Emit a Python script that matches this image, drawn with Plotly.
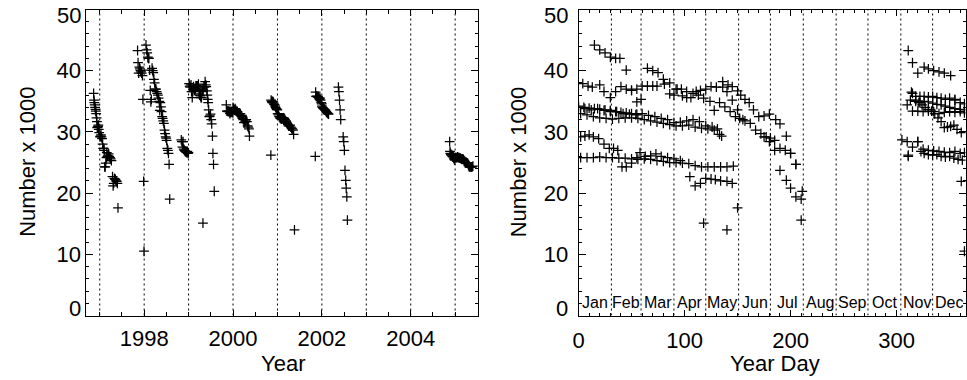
import plotly.graph_objects as go

# ---------------- data (day of year, value x1000) per observing season ----------------
doy_1996 = [315, 318, 321, 324, 327, 330, 333, 336, 339, 342, 345, 348, 351, 354, 357, 361]
val_1996 = [36.3, 35.2, 34.8, 34.4, 34.0, 33.7, 33.4, 33.0, 32.3, 31.7, 30.7, 30.8, 30.9, 31.1, 30.4, 29.9]

doy_1997 = [2, 6, 10, 14, 19, 24, 29, 33, 37, 41, 45, 50, 55, 58, 63, 68, 73, 78, 84, 90, 96,
            105, 110, 115, 120, 125, 129, 134, 140, 145, 150,
            311, 315, 320, 326, 330, 335, 340, 345, 351, 355, 361, 364]
val_1997 = [29.2, 29.3, 29.5, 29.2, 28.9, 28.0, 27.3, 27.3, 27.0, 24.3, 24.3, 24.9, 25.8, 26.6, 26.0, 26.1, 26.4, 26.0, 25.8, 25.6, 25.3,
            22.7, 21.2, 21.6, 22.4, 22.3, 22.2, 22.0, 21.9, 21.6, 17.6,
            43.3, 41.3, 39.6, 40.6, 40.3, 40.0, 39.8, 39.6, 39.2, 35.3, 21.9, 10.5]

doy_1998 = [15, 20, 25, 30, 35, 39, 45, 50, 55, 59, 65, 70, 75, 80, 86, 92, 97, 102, 108, 113, 118, 124,
            128, 133, 138, 143, 148, 152, 157, 162, 167, 172, 177, 181, 185, 190, 195, 200, 205, 210,
            305, 310, 315, 320, 325, 330, 335, 340, 345, 350, 355, 360, 364]
val_1998 = [44.2, 43.4, 42.9, 42.2, 42.0, 42.0, 40.1, 36.8, 34.9, 35.3, 40.4, 40.0, 39.7, 38.6, 38.0, 37.0, 37.0, 36.6, 36.3, 36.0, 35.5, 35.0,
            33.5, 34.8, 34.1, 33.3, 32.5, 32.2, 31.8, 31.4, 30.3, 29.7, 29.2, 29.0, 28.6, 27.3, 27.0, 26.5, 24.7, 19.0,
            28.7, 28.4, 27.5, 28.4, 27.2, 27.0, 26.9, 26.8, 26.7, 26.6, 26.8, 26.5, 26.6]

doy_1999 = [4, 9, 13, 20, 24, 30, 35, 40, 45, 50, 55, 60, 65, 70, 74, 81, 86, 90, 93, 98, 102, 106, 111, 115, 118,
            120, 125, 130, 136, 141, 145, 150, 153, 157, 161, 165, 170, 175, 180, 186, 190, 196, 200, 205, 211,
            310, 315, 320, 325, 330, 335, 340, 345, 350, 355, 360, 364]
val_1999 = [37.9, 37.5, 37.3, 37.7, 36.6, 35.6, 36.6, 37.4, 37.0, 36.8, 37.0, 37.5, 37.5, 37.5, 37.5, 37.8, 36.2, 36.0, 37.0, 35.9, 35.6, 35.6, 36.6, 36.8, 15.1,
            37.0, 37.4, 37.3, 38.2, 37.7, 37.4, 36.7, 36.0, 35.3, 34.8, 33.6, 32.5, 32.6, 32.9, 32.0, 31.3, 29.3, 26.5, 24.7, 20.3,
            34.4, 33.4, 33.4, 33.3, 33.4, 33.3, 33.0, 33.2, 33.3, 33.2, 33.3, 33.1]

doy_2000 = [0, 6, 12, 18, 24, 30, 36, 42, 48, 54, 60, 66, 72, 78, 84, 90, 96, 102, 108, 114, 120, 126, 131, 135,
            311, 313, 318, 322, 326, 330, 334, 338, 342, 346, 350, 355, 360, 364]
val_2000 = [34.0, 33.8, 33.6, 33.8, 33.5, 33.3, 33.3, 33.0, 32.9, 32.8, 33.0, 32.7, 32.5, 32.2, 32.0, 31.5, 31.6, 31.8, 32.0, 31.7, 31.0, 30.8, 30.5, 29.3,
            26.2, 35.2, 35.0, 34.8, 35.0, 34.9, 34.7, 34.5, 34.4, 34.2, 34.0, 33.8, 33.7, 33.6]

doy_2001 = [2, 8, 14, 20, 26, 32, 38, 44, 50, 56, 62, 68, 74, 80, 86, 92, 98, 104, 110, 116, 122, 128, 133, 140,
            311, 314, 318, 322, 326, 330, 334, 338, 342, 346, 350, 355, 360, 364]
val_2001 = [33.0, 32.8, 32.5, 32.3, 32.2, 32.1, 32.2, 32.3, 32.3, 32.2, 32.0, 31.8, 31.6, 31.4, 31.2, 31.0, 31.0, 31.1, 30.8, 30.6, 30.5, 30.3, 29.6, 14.0,
            26.0, 36.5, 35.8, 35.8, 35.8, 35.7, 35.8, 35.6, 35.5, 35.3, 35.5, 35.2, 34.8, 34.6]

doy_2002 = [0, 5, 10, 15, 20, 25, 30, 35, 40, 45, 50, 55,
            136, 140, 145, 150, 155, 175, 180, 185, 190, 196, 200, 205, 210]
val_2002 = [34.2, 34.0, 33.9, 33.8, 33.7, 33.6, 33.5, 33.3, 33.2, 33.1, 33.0, 32.9,
            37.3, 36.6, 35.2, 33.6, 32.0, 29.2, 28.4, 27.0, 23.7, 22.1, 20.8, 19.4, 15.6]

doy_2004 = [320, 323, 326, 330, 334, 338, 342, 346, 350, 354, 358, 362]
val_2004 = [28.4, 26.8, 26.5, 26.3, 26.2, 26.3, 26.0, 25.9, 26.0, 25.7, 25.5, 25.4]

doy_2005 = [2, 8, 14, 20, 26, 32, 38, 44, 50, 56, 62, 68, 74, 80, 86, 92, 98, 104, 110, 116, 122, 128, 134, 140, 146]
val_2005 = [25.8, 25.8, 25.8, 25.9, 25.8, 25.8, 25.7, 25.7, 25.6, 25.5, 25.6, 25.5, 25.3, 25.2, 25.0, 25.0, 24.9, 24.8, 24.5, 24.3, 24.3, 24.3, 24.3, 24.3, 24.4]

year_lines = [1997, 1998, 1999, 2000, 2001, 2002, 2003, 2004, 2005]
month_starts = [31, 59, 90, 120, 151, 181, 212, 243, 273, 304, 334]
month_names = ["Jan", "Feb", "Mar", "Apr", "May", "Jun", "Jul", "Aug", "Sep", "Oct", "Nov", "Dec"]
month_mid = [15.5, 45, 74.5, 105, 135.5, 166, 196.5, 227.5, 258, 288.5, 319, 349.5]

seasons = [(1996, doy_1996, val_1996), (1997, doy_1997, val_1997), (1998, doy_1998, val_1998),
           (1999, doy_1999, val_1999), (2000, doy_2000, val_2000), (2001, doy_2001, val_2001),
           (2002, doy_2002, val_2002), (2004, doy_2004, val_2004), (2005, doy_2005, val_2005)]

frac_year, day, value = [], [], []
for yr, ds, vs in seasons:
    for d, v in zip(ds, vs):
        frac_year.append(yr + d / 365.25)
        day.append(d)
        value.append(v)

# ---------------- figure ----------------
W, H = 967, 380
FONT = "Liberation Sans, Arial, Helvetica, sans-serif"
marker = dict(symbol="cross-thin", size=7, line=dict(width=1.25, color="black"), color="black")

fig = go.Figure()
fig.add_trace(go.Scatter(x=frac_year, y=value, mode="markers", marker=marker, xaxis="x", yaxis="y",
                         showlegend=False, cliponaxis=True))
fig.add_trace(go.Scatter(x=day, y=value, mode="markers", marker=marker, xaxis="x2", yaxis="y2",
                         showlegend=False, cliponaxis=True))

ydom = [1 - 315.5 / H, 1 - 9.5 / H]
TS = 22
common_axis = dict(showline=True, linecolor="black", linewidth=1, mirror="allticks", ticks="inside",
                   tickcolor="black", tickwidth=1, showgrid=False, zeroline=False,
                   tickfont=dict(family=FONT, size=TS, color="black"))

yticks = [0, 10, 20, 30, 40, 50]
ytext = ["", "10", "20", "30", "40", ""]

fig.update_layout(
    width=W, height=H, margin=dict(l=0, r=0, t=0, b=0),
    paper_bgcolor="white", plot_bgcolor="white",
    xaxis=dict(domain=[81 / W, 475.7 / W], range=[1996.7, 2005.52], tick0=1998, dtick=2, ticklen=6,
               minor=dict(dtick=0.5, ticklen=4, ticks="inside", tickcolor="black"),
               ticklabelstandoff=3, **common_axis),
    yaxis=dict(domain=ydom, range=[0, 50], tickvals=yticks, ticktext=ytext, ticklen=7,
               minor=dict(dtick=2, ticklen=3, ticks="inside", tickcolor="black"),
               ticklabelstandoff=0, **common_axis),
    xaxis2=dict(domain=[576.7 / W, 966.5 / W], range=[0, 365], tick0=0, dtick=100, ticklen=6, anchor="y2",
                minor=dict(dtick=10, ticklen=3, ticks="inside", tickcolor="black"),
                ticklabelstandoff=5, **common_axis),
    yaxis2=dict(domain=ydom, range=[0, 50], tickvals=yticks, ticktext=ytext, ticklen=7, anchor="x2",
                minor=dict(dtick=2, ticklen=3, ticks="inside", tickcolor="black"),
                ticklabelstandoff=5, **common_axis),
)

DOT = "2px,3px"
shapes = []
for yl in year_lines:
    shapes.append(dict(type="line", xref="x", yref="y", x0=yl, x1=yl, y0=0, y1=50,
                       line=dict(color="black", width=1, dash=DOT), layer="below"))
for ms in month_starts:
    shapes.append(dict(type="line", xref="x2", yref="y2", x0=ms, x1=ms, y0=0, y1=50,
                       line=dict(color="black", width=1, dash=DOT), layer="below"))
fig.update_layout(shapes=shapes)

ann = []
def px_ann(text, px, py, size=TS, angle=0, xanchor="center", yanchor="middle"):
    ann.append(dict(text=text, x=px / W, y=1 - py / H, xref="paper", yref="paper", showarrow=False,
                    textangle=angle, xanchor=xanchor, yanchor=yanchor,
                    font=dict(family=FONT, size=size, color="black")))

# end labels of y axes (sit slightly inside the frame as in the reference)
px_ann("0", 78, 308.5, xanchor="right")
px_ann("50", 78, 15, xanchor="right")
px_ann("0", 568, 308.5, xanchor="right")
px_ann("50", 568, 15, xanchor="right")
# axis titles
px_ann("Year", 279, 363)
px_ann("Year Day", 775, 363)
px_ann("Number x 1000", 21, 162, angle=-90)
px_ann("Number x 1000", 516, 162, angle=-90)
# month labels
for name, mid in zip(month_names, month_mid):
    ann.append(dict(text=name, x=mid, y=2.2, xref="x2", yref="y2", showarrow=False,
                    xanchor="center", yanchor="middle",
                    font=dict(family=FONT, size=16, color="black")))
fig.update_layout(annotations=ann)

fig.write_html("out.html")
